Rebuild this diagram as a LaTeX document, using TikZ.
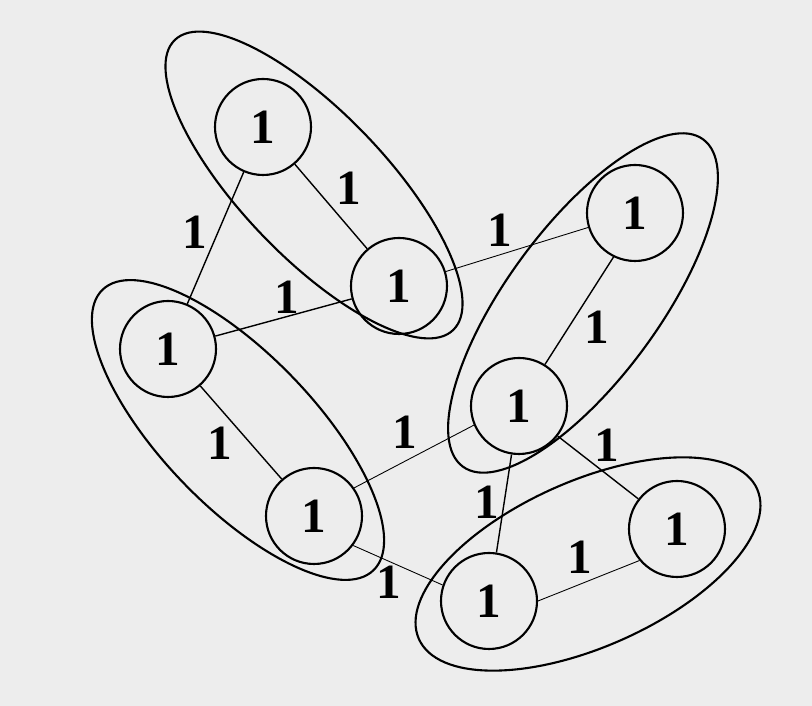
\documentclass[tikz,border=0pt]{standalone}
\usepackage{fontspec}
\setmainfont{Liberation Serif}
\usepackage{tikz}
\usetikzlibrary{positioning}

\begin{document}
\begin{tikzpicture}[
    vert/.style={draw, circle, line width=1.2pt, minimum size=1.92cm, inner sep=0pt,
        font=\fontsize{28}{30}\selectfont\bfseries},
    grp/.style={draw, line width=1.2pt},
    edge/.style={line width=0.8pt},
    thinedge/.style={line width=0.5pt},
    lbl/.style={font=\fontsize{28}{30}\selectfont\bfseries, inner sep=0pt}
]
    \useasboundingbox[fill=black!7] (0,0) rectangle (16.24,14.12);

    % Vertices
    \node[vert] (a) at (5.26,11.58) {1};
    \node[vert] (b) at (7.98,8.40) {1};
    \node[vert] (c) at (3.36,7.14) {1};
    \node[vert] (d) at (6.28,3.80) {1};
    \node[vert] (e) at (12.70,9.86) {1};
    \node[vert] (f) at (10.38,6.00) {1};
    \node[vert] (g) at (13.54,3.54) {1};
    \node[vert] (h) at (9.78,2.10) {1};

    % Groups of two vertices
    \draw[grp, rotate around={-46.2:(6.28,10.42)}] (6.28,10.42) ellipse [x radius=4.02cm, y radius=1.44cm];
    \draw[grp, rotate around={-46:(4.76,5.52)}] (4.76,5.52) ellipse [x radius=3.9cm, y radius=1.52cm];
    \draw[grp, rotate around={53.7:(11.66,8.06)}] (11.66,8.06) ellipse [x radius=4.06cm, y radius=1.52cm];
    \draw[grp, rotate around={23.9:(11.76,2.84)}] (11.76,2.84) ellipse [x radius=3.7cm, y radius=1.66cm];

    % Edges with their weights
    \draw[edge] (a) -- (b) node[lbl, midway, xshift=0.36cm, yshift=0.37cm] {1};
    \draw[edge] (a) -- (c) node[lbl, midway, xshift=-0.41cm, yshift=0.12cm] {1};
    \draw[edge] (c) -- (b) node[lbl, midway, xshift=0.07cm, yshift=0.41cm] {1};
    \draw[thinedge] (b) -- (e) node[lbl, midway, xshift=-0.34cm, yshift=0.39cm] {1};
    \draw[edge] (e.244) -- (f.58) node[lbl, midway, xshift=0.36cm, yshift=-0.33cm] {1};
    \draw[edge] (c) -- (d) node[lbl, midway, xshift=-0.42cm, yshift=-0.21cm] {1};
    \draw[thinedge] (d.35) -- (f.203) node[lbl, midway, xshift=-0.18cm, yshift=0.48cm] {1};
    \draw[edge] (f) -- (g) node[lbl, midway, xshift=0.18cm, yshift=0.45cm] {1};
    \draw[edge] (f) -- (h) node[lbl, midway, xshift=-0.34cm, yshift=0.03cm] {1};
    \draw[thinedge] (d.-37) -- (h.161) node[lbl, midway, xshift=-0.19cm, yshift=-0.34cm] {1};
    \draw[thinedge] (h.east) -- (g.220) node[lbl, midway, xshift=-0.17cm, yshift=0.47cm] {1};
\end{tikzpicture}
\end{document}
